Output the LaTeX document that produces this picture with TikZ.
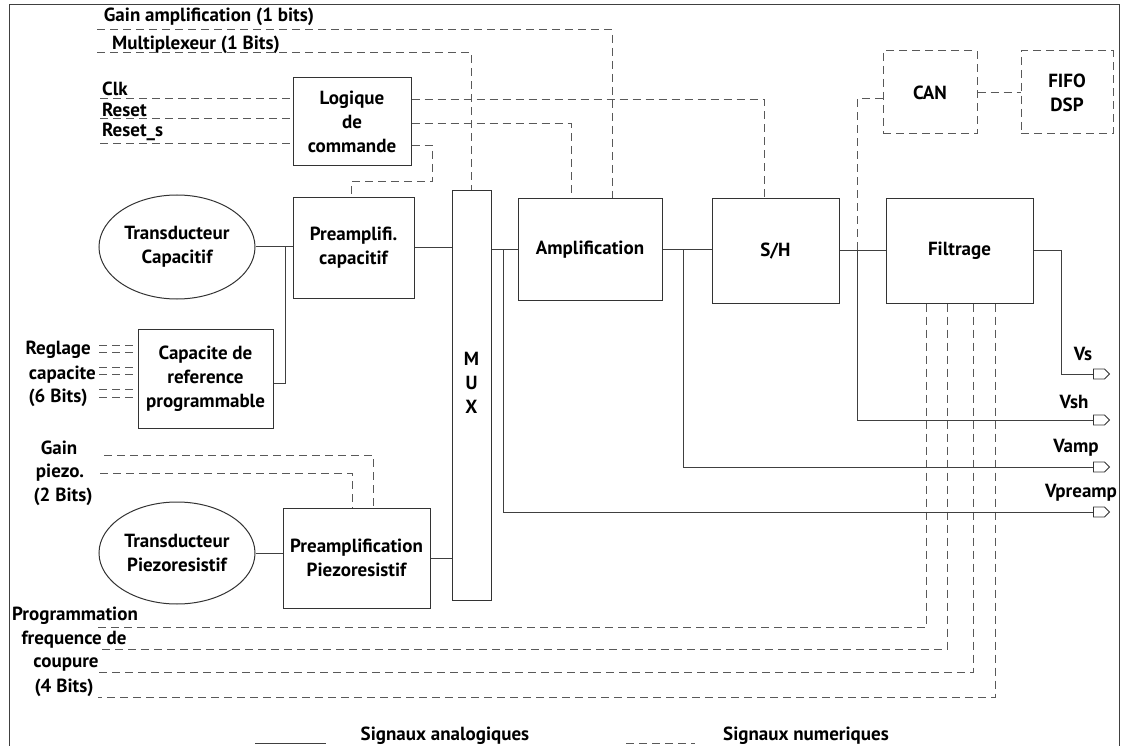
\documentclass[tikz,border=0pt]{standalone}
\usepackage{fontspec}
\setmainfont{PT Sans}
\usetikzlibrary{shapes.geometric,shapes.symbols}
\newcommand\dfont{\bfseries\fontsize{19}{24}\selectfont}
\begin{document}
\begin{tikzpicture}[x=1pt,y=-1pt,
  ana/.style={line width=1pt, draw=black!75},
  dig/.style={line width=1pt, draw=black!65, dash pattern=on 8pt off 5pt},
  blk/.style={draw=black!80, line width=1pt, inner sep=0pt, align=center, font=\dfont},
  dblk/.style={blk, draw=black!65, dash pattern=on 8pt off 5pt},
  ell/.style={blk, ellipse},
  txt/.style={inner sep=0pt, font=\dfont, align=center},
  port/.style={shape=signal, signal to=east, draw=black!80, line width=0.8pt, minimum width=16pt, minimum height=10pt, inner sep=0pt}]
\useasboundingbox (0,0) rectangle (1125,746);
\draw[ana] (9,5) rectangle (1119,770);

% blocks
\node[blk, minimum width=118pt, minimum height=88pt] (logic) at (352,122) {Logique\\de\\commande};
\node[blk, minimum width=121pt, minimum height=100pt] (preC) at (353.5,248) {Preamplifi.\\capacitif};
\node[ell, minimum width=156pt, minimum height=104pt] (ellC) at (177,247) {Transducteur\\Capacitif};
\node[blk, minimum width=135pt, minimum height=99pt] (capR) at (205.5,378.5) {Capacite de\\reference\\programmable};
\node[blk, minimum width=39pt, minimum height=409pt] (mux) at (471.5,395.5) {};
\node[txt] (muxt) at (471.5,383) {M\\U\\X};
\node[blk, minimum width=144pt, minimum height=101pt] (amp) at (590,249.5) {Amplification};
\node[blk, minimum width=127pt, minimum height=104pt] (sh) at (775.5,251) {S/H};
\node[blk, minimum width=147pt, minimum height=104pt] (filt) at (959.5,251) {Filtrage};
\node[dblk, minimum width=94pt, minimum height=83pt] (can) at (930,92.5) {CAN};
\node[dblk, minimum width=92pt, minimum height=83pt] (fifo) at (1067,92.5) {FIFO\\DSP};
\node[ell, minimum width=156pt, minimum height=102pt] (ellP) at (177,553) {Transducteur\\Piezoresistif};
\node[blk, minimum width=147pt, minimum height=100pt] (preP) at (356.5,558) {Preamplification\\Piezoresistif};

% output ports
\node[port] (pVs) at (1099,374) {};
\node[port] (pVsh) at (1099,420) {};
\node[port] (pVamp) at (1099,467) {};
\node[port] (pVpre) at (1099,512) {};
\node[txt] (lVs) at (1083,354) {Vs};
\node[txt] (lVsh) at (1074,402) {Vsh};
\node[txt] (lVamp) at (1076,448) {Vamp};
\node[txt] (lVpre) at (1081,493) {Vpreamp};

% left labels
\node[txt] (tGain) at (209,17) {Gain amplification (1 bits)};
\node[txt] (tMux) at (196,45) {Multiplexeur (1 Bits)};
\node[txt, anchor=west] (tClk) at (102,89) {Clk};
\node[txt, anchor=west] (tRes) at (102,110) {Reset};
\node[txt, anchor=west] (tRess) at (102,132) {Reset\_s};
\node[txt, anchor=east] (tReg) at (91,350) {Reglage};
\node[txt, anchor=east] (tCap) at (96,375) {capacite};
\node[txt] (t6b) at (58,398) {(6 Bits)};
\node[txt] (tGp1) at (59,448) {Gain};
\node[txt] (tGp2) at (60,473) {piezo.};
\node[txt] (tGp3) at (63,497) {(2 Bits)};
\node[txt] (tPr1) at (75,616) {Programmation};
\node[txt] (tPr2) at (74,640) {frequence de};
\node[txt] (tPr3) at (66,665) {coupure};
\node[txt] (tPr4) at (64,688) {(4 Bits)};

% free ends
\coordinate (gA) at (97,30);
\coordinate (mA) at (97,53);
\coordinate (clkA) at (100,99);
\coordinate (resA) at (100,119);
\coordinate (ressA) at (100,144);
\coordinate (gp1) at (104,455);
\coordinate (gp2) at (100,473);
\coordinate (f1) at (98,627);
\coordinate (f2) at (98,649);
\coordinate (f3) at (98,672);
\coordinate (f4) at (98,697);
\coordinate (r1) at (99,345);
\coordinate (r2) at (99,352);
\coordinate (r3) at (99,367);
\coordinate (r4) at (99,374);
\coordinate (r5) at (99,389);
\coordinate (r6) at (99,397);
\coordinate (jC) at (285,247);
\coordinate (jP) at (503,249.5);
\coordinate (jA) at (683,249.5);
\coordinate (jS) at (857,251);

% digital connectors
\draw[dig] (gA) -| ([xshift=22pt]amp.north);
\draw[dig] (mA) -| (mux.north);
\draw[dig] (clkA) -- (clkA -| logic.west);
\draw[dig] (resA) -- (resA -| logic.west);
\draw[dig] (ressA) -- (ressA -| logic.west);
\draw[dig] ([yshift=22pt]logic.east) -| ([xshift=-11.5pt]sh.north);
\draw[dig] ([yshift=-2pt]logic.east) -| ([xshift=-19pt]amp.north);
\draw[dig] ([yshift=-24pt]logic.east) -- ++(21,0) -- ++(0,36) -- (351,182) -- ([xshift=-2.5pt]preC.north);
\draw[dig] ([yshift=-6.5pt]can.west) -| (jS);
\draw[dig] ([yshift=-0.5pt]can.east) -- ([yshift=-0.5pt]can.east -| fifo.west);
\foreach \r in {r1,r2,r3,r4,r5,r6} \draw[dig] (\r) -- (\r -| capR.west);
\draw[dig] (gp1) -| ([xshift=16.5pt]preP.north);
\draw[dig] (gp2) -| ([xshift=-4.5pt]preP.north);
\draw[dig] ([xshift=-33.5pt]filt.south) |- (f1);
\draw[dig] ([xshift=-12.5pt]filt.south) |- (f2);
\draw[dig] ([xshift=13.5pt]filt.south) |- (f3);
\draw[dig] ([xshift=35.5pt]filt.south) |- (f4);

% analog connectors
\draw[ana] (ellC.east) -- (ellC.east -| preC.west);
\draw[ana] (jC) |- ([yshift=-4.5pt]capR.east);
\draw[ana] (preC.east) -- (preC.east -| mux.west);
\draw[ana] (ellP.east) -- (ellP.east -| preP.west);
\draw[ana] (preP.east) -- (preP.east -| mux.west);
\draw[ana] (amp.west -| mux.east) -- (amp.west);
\draw[ana] (amp.east) -- (amp.east -| sh.west);
\draw[ana] (sh.east) -- (filt.west);
\draw[ana] (jP) |- (pVpre.west);
\draw[ana] (jA) |- (pVamp.west);
\draw[ana] (jS) |- (pVsh.west);
\draw[ana] (filt.east) -- ++(28,0) |- (pVs.west);

% legend
\coordinate (la1) at (255,743);
\coordinate (la2) at (326,743);
\coordinate (ln1) at (626,743);
\coordinate (ln2) at (695,743);
\draw[ana] (la1) -- (la2);
\draw[dig] (ln1) -- (ln2);
\node[txt] (lgA) at (445,736) {Signaux analogiques};
\node[txt] (lgN) at (806,736) {Signaux numeriques};
\end{tikzpicture}
\end{document}
